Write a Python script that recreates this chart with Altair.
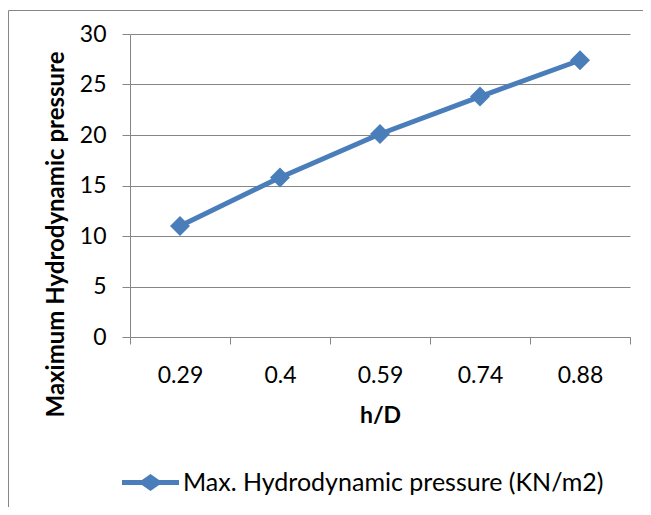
import altair as alt
import pandas as pd

hd_labels = ["0.29", "0.4", "0.59", "0.74", "0.88"]
pressure = [11.0, 15.8, 20.1, 23.8, 27.4]
series_name = "Max. Hydrodynamic pressure (KN/m2)"

df = pd.DataFrame({"hd": hd_labels, "p": pressure, "series": [series_name] * len(hd_labels)})

BLUE = "#4a7ebb"
GRAY = "#868686"
FONT = "Lato"

x_enc = alt.X(
    "hd:N",
    sort=hd_labels,
    scale=alt.Scale(type="band", paddingInner=0, paddingOuter=0),
    axis=alt.Axis(
        title="h/D",
        labelAngle=0,
        tickBand="extent",
        tickSize=7,
        labelPadding=20,
        grid=False,
        titleY=85,
        titleBaseline="alphabetic",
        titleFontSize=23,
    ),
)
y_enc = alt.Y(
    "p:Q",
    scale=alt.Scale(domain=[0, 30], nice=False),
    axis=alt.Axis(
        title="Maximum Hydrodynamic pressure",
        values=[0, 5, 10, 15, 20, 25, 30],
        tickSize=8,
        labelPadding=16,
        grid=True,
        titleAngle=270,
        titleX=-67,
        titleY=200,
        titleAlign="center",
        titleBaseline="alphabetic",
        titleFontSize=24,
    ),
)

frame = alt.Chart(alt.Data(values=[{"a": 1}])).mark_rect(
    fill="white", fillOpacity=0, stroke=GRAY, strokeWidth=1
).encode(
    x=alt.value(-121.5), x2=alt.value(800), y=alt.value(-23.5), y2=alt.value(800)
)

line = alt.Chart(df).mark_line(color=BLUE, strokeWidth=5, strokeCap="round", strokeJoin="round").encode(
    x=x_enc, y=y_enc
)

legend_path = (
    "M-1,-0.09L-0.3,-0.09L0,-0.3L0.3,-0.09L1,-0.09L1,0.09L0.3,0.09L0,0.3L-0.3,0.09L-1,0.09Z"
)

points = alt.Chart(df).mark_point(shape="diamond", filled=True, size=400, opacity=1).encode(
    x=x_enc,
    y=y_enc,
    color=alt.Color(
        "series:N",
        scale=alt.Scale(range=[BLUE]),
        legend=alt.Legend(
            title=None,
            orient="none",
            legendX=-8,
            legendY=420,
            symbolType=legend_path,
            symbolSize=3249,
            symbolStrokeWidth=0,
            symbolOpacity=1,
            labelFont=FONT,
            labelFontSize=25,
            labelColor="black",
            labelOffset=4,
            padding=0,
            labelLimit=600,
        ),
    ),
)

chart = (
    alt.layer(frame, line, points)
    .properties(
        width=500,
        height=303,
        padding={"left": 122, "top": 26, "right": 13, "bottom": 170},
        autosize=alt.AutoSizeParams(type="none"),
        background="white",
    )
    .configure_view(stroke=None)
    .configure_axis(
        domainColor=GRAY,
        tickColor=GRAY,
        gridColor=GRAY,
        gridOpacity=1,
        labelFont=FONT,
        labelFontSize=23,
        labelColor="black",
        titleFont=FONT,
        titleFontSize=22,
        titleFontWeight="bold",
        titleColor="black",
    )
)

chart.save("out.html", embed_options={"renderer": "svg", "actions": False})
